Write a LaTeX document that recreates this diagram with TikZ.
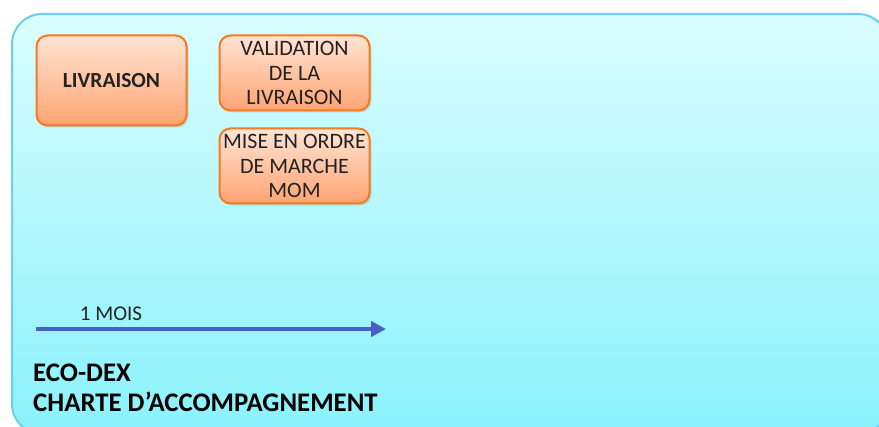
\documentclass[tikz,border=0pt]{standalone}
\usepackage{fontspec}
\setmainfont{Carlito}
\usetikzlibrary{positioning,shadows,arrows.meta}
\definecolor{cadreHaut}{HTML}{DAFDFF}
\definecolor{cadreBas}{HTML}{8AF2FB}
\definecolor{cadreBord}{HTML}{6DCDF2}
\definecolor{etapeHaut}{HTML}{FFE4D4}
\definecolor{etapeBas}{HTML}{FFA472}
\definecolor{etapeBord}{HTML}{F57A22}
\definecolor{flecheBleu}{HTML}{4A5FC6}
\definecolor{texte}{HTML}{222222}
\tikzstyle{etape}=[draw=etapeBord,line width=2pt,rounded corners=11pt,top color=etapeHaut,bottom color=etapeBas,minimum width=150pt,align=center,text=texte,inner sep=0pt,font=\fontsize{22}{24.5}\selectfont,drop shadow={shadow xshift=2pt,shadow yshift=-2pt,opacity=0.25}]
\tikzstyle{titre}=[anchor=base west,inner sep=0pt,text=black,font=\fontsize{26.8}{30}\selectfont\bfseries]

\begin{document}
\begin{tikzpicture}[x=1pt,y=-1pt]
  \useasboundingbox (0,0) rectangle (879,427);
  \draw[cadreBord,line width=2pt,rounded corners=30pt,top color=cadreHaut,bottom color=cadreBas] (12,14) rectangle (888,434);
  \node[etape,minimum height=90pt,font=\fontsize{21.5}{24}\selectfont\bfseries] (livraison) at (111.5,80.5) {LIVRAISON};
  \node[etape,minimum height=75pt,right=31pt of livraison.north east,anchor=north west] (validation) {VALIDATION\\DE LA\\LIVRAISON};
  \node[etape,minimum height=75pt,below=16pt of validation] (miseenordre) {MISE EN ORDRE\\DE MARCHE\\MOM};
  \coordinate (debut) at (36,329);
  \coordinate (fin) at (386,329);
  \draw[flecheBleu,line width=4pt,-{Triangle[length=15pt,width=15pt]},drop shadow={shadow xshift=1pt,shadow yshift=-2pt,opacity=0.2}] (debut) -- (fin);
  \node[anchor=base,inner sep=0pt,text=texte,font=\fontsize{21}{24}\selectfont] (mois) at (111,321) {1 MOIS};
  \node[titre] (ecodex) at (33,382) {ECO-DEX};
  \node[titre] (charte) at (33,412) {CHARTE D’ACCOMPAGNEMENT};
\end{tikzpicture}
\end{document}
